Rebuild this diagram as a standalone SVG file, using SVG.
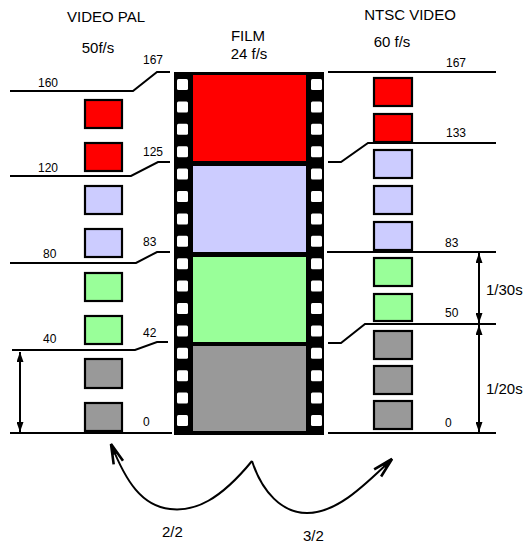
<svg xmlns="http://www.w3.org/2000/svg" width="523" height="544" viewBox="0 0 523 544">
<style>
text{font-family:"Liberation Sans",Arial,sans-serif;fill:#000}
.t{font-size:15px}
.l{font-size:12px}
.ln{fill:none;stroke:#000;stroke-width:2}
.box{stroke:#000;stroke-width:2.2}
.red{fill:#FF0000}.lav{fill:#CCCCFF}.grn{fill:#99FF99}.gry{fill:#999999}
.hole{fill:#fff}
</style>
<defs>
<marker id="fa" viewBox="0 0 10 7" refX="10" refY="3.5" markerWidth="10" markerHeight="7" markerUnits="userSpaceOnUse" orient="auto-start-reverse"><path d="M0,0 L10,3.5 L0,7 z" fill="#000"/></marker>
<marker id="oa" viewBox="-23 -8 25 16" refX="0" refY="0" markerWidth="25" markerHeight="16" markerUnits="userSpaceOnUse" orient="auto"><path d="M-20,-5 L0,0 L-20,5" fill="none" stroke="#000" stroke-width="2.6" stroke-linejoin="miter"/><path d="M0,0 L-11,-3 L-11,3 z" fill="#000"/></marker>
</defs>
<rect width="523" height="544" fill="#fff"/>

<g id="titles">
<text class="t" x="106" y="22" text-anchor="middle">VIDEO PAL</text>
<text class="t" x="98" y="53" text-anchor="middle">50f/s</text>
<text class="t" x="248" y="41" text-anchor="middle">FILM</text>
<text class="t" x="249" y="59" text-anchor="middle">24 f/s</text>
<text class="t" x="410" y="20" text-anchor="middle">NTSC VIDEO</text>
<text class="t" x="392" y="47" text-anchor="middle">60 f/s</text>
</g>

<g id="film">
<rect x="174" y="72" width="150" height="363" fill="#000"/>
<rect x="193" y="75" width="113" height="86" class="red"/>
<rect x="193" y="166" width="113" height="86" class="lav"/>
<rect x="193" y="257" width="113" height="85" class="grn"/>
<rect x="193" y="346" width="113" height="85" class="gry"/>
<g id="holes">
<rect class="hole" x="177" y="79" width="11" height="11" rx="1.5"/><rect class="hole" x="311" y="79" width="11" height="11" rx="1.5"/>
<rect class="hole" x="177" y="101.4" width="11" height="11" rx="1.5"/><rect class="hole" x="311" y="101.4" width="11" height="11" rx="1.5"/>
<rect class="hole" x="177" y="123.8" width="11" height="11" rx="1.5"/><rect class="hole" x="311" y="123.8" width="11" height="11" rx="1.5"/>
<rect class="hole" x="177" y="146.2" width="11" height="11" rx="1.5"/><rect class="hole" x="311" y="146.2" width="11" height="11" rx="1.5"/>
<rect class="hole" x="177" y="168.6" width="11" height="11" rx="1.5"/><rect class="hole" x="311" y="168.6" width="11" height="11" rx="1.5"/>
<rect class="hole" x="177" y="191" width="11" height="11" rx="1.5"/><rect class="hole" x="311" y="191" width="11" height="11" rx="1.5"/>
<rect class="hole" x="177" y="213.4" width="11" height="11" rx="1.5"/><rect class="hole" x="311" y="213.4" width="11" height="11" rx="1.5"/>
<rect class="hole" x="177" y="235.8" width="11" height="11" rx="1.5"/><rect class="hole" x="311" y="235.8" width="11" height="11" rx="1.5"/>
<rect class="hole" x="177" y="258.2" width="11" height="11" rx="1.5"/><rect class="hole" x="311" y="258.2" width="11" height="11" rx="1.5"/>
<rect class="hole" x="177" y="280.6" width="11" height="11" rx="1.5"/><rect class="hole" x="311" y="280.6" width="11" height="11" rx="1.5"/>
<rect class="hole" x="177" y="303" width="11" height="11" rx="1.5"/><rect class="hole" x="311" y="303" width="11" height="11" rx="1.5"/>
<rect class="hole" x="177" y="325.4" width="11" height="11" rx="1.5"/><rect class="hole" x="311" y="325.4" width="11" height="11" rx="1.5"/>
<rect class="hole" x="177" y="347.8" width="11" height="11" rx="1.5"/><rect class="hole" x="311" y="347.8" width="11" height="11" rx="1.5"/>
<rect class="hole" x="177" y="370.2" width="11" height="11" rx="1.5"/><rect class="hole" x="311" y="370.2" width="11" height="11" rx="1.5"/>
<rect class="hole" x="177" y="392.6" width="11" height="11" rx="1.5"/><rect class="hole" x="311" y="392.6" width="11" height="11" rx="1.5"/>
<rect class="hole" x="177" y="415" width="11" height="11" rx="1.5"/><rect class="hole" x="311" y="415" width="11" height="11" rx="1.5"/>
</g>
</g>

<g id="pal">
<rect class="box red" x="85" y="100" width="37" height="28"/>
<rect class="box red" x="85" y="143" width="37" height="28"/>
<rect class="box lav" x="85" y="186" width="37" height="28"/>
<rect class="box lav" x="85" y="229" width="37" height="28"/>
<rect class="box grn" x="85" y="273" width="37" height="28"/>
<rect class="box grn" x="85" y="316" width="37" height="28"/>
<rect class="box gry" x="85" y="359" width="37" height="29"/>
<rect class="box gry" x="85" y="403" width="37" height="28"/>
<text class="l" x="143" y="64">167</text>
<text class="l" x="38" y="87">160</text>
<text class="l" x="143" y="156">125</text>
<text class="l" x="38" y="172">120</text>
<text class="l" x="143" y="246">83</text>
<text class="l" x="43" y="258">80</text>
<text class="l" x="143" y="337">42</text>
<text class="l" x="43" y="343">40</text>
<text class="l" x="143" y="426">0</text>
</g>

<g id="ntsc">
<rect class="box red" x="374" y="78" width="38" height="28"/>
<rect class="box red" x="374" y="114" width="38" height="28"/>
<rect class="box lav" x="374" y="150" width="38" height="28"/>
<rect class="box lav" x="374" y="186" width="38" height="28"/>
<rect class="box lav" x="374" y="222" width="38" height="28"/>
<rect class="box grn" x="374" y="258" width="38" height="28"/>
<rect class="box grn" x="374" y="294" width="38" height="27"/>
<rect class="box gry" x="374" y="331" width="38" height="28"/>
<rect class="box gry" x="374" y="366" width="38" height="28"/>
<rect class="box gry" x="374" y="401" width="38" height="28"/>
<text class="l" x="446" y="67">167</text>
<text class="l" x="446" y="137">133</text>
<text class="l" x="445" y="247">83</text>
<text class="l" x="445" y="317">50</text>
<text class="l" x="445" y="427">0</text>
<text class="t" x="486" y="295">1/30s</text>
<text class="t" x="486" y="394">1/20s</text>
</g>

<g id="connectors">
<polyline class="ln" points="10,91 133,91 157,72 170,72"/>
<polyline class="ln" points="10,176 131,176 158,162 170,162"/>
<polyline class="ln" points="10,263 136,263 157,252 170,252"/>
<polyline class="ln" points="12,350 135,350 157,342 168,342"/>
<polyline class="ln" points="10,433 172,433"/>
<polyline class="ln" points="328,72 496,72"/>
<polyline class="ln" points="328,162 341,162 368,143 496,143"/>
<polyline class="ln" points="327,252 496,252"/>
<polyline class="ln" points="328,343 341,343 365,324 496,324"/>
<polyline class="ln" points="328,433 496,433"/>
<line class="ln" x1="20" y1="352" x2="20" y2="432" marker-start="url(#fa)" marker-end="url(#fa)"/>
<line class="ln" x1="479" y1="253" x2="479" y2="323" marker-start="url(#fa)" marker-end="url(#fa)"/>
<line class="ln" x1="479" y1="325" x2="479" y2="432" marker-start="url(#fa)" marker-end="url(#fa)"/>
<path class="ln" d="M252,461 C220,500 195,512 170,509 C142,506 126,482 111,444" marker-end="url(#oa)"/>
<path class="ln" d="M252,461 C262,492 282,513 307,513 C335,513 360,490 392,459" marker-end="url(#oa)"/>
<text class="t" x="162" y="537">2/2</text>
<text class="t" x="303" y="541">3/2</text>
</g>
</svg>
